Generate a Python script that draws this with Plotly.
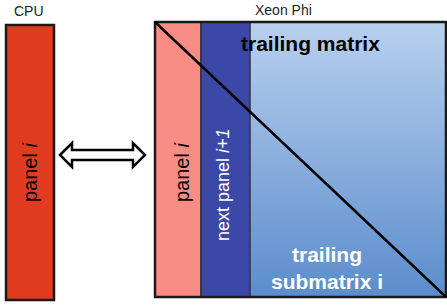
import plotly.graph_objects as go

# Diagram content
device_names = ["CPU", "Xeon Phi"]
block_labels = ["panel <i>i</i>", "panel <i>i</i>", "next panel <i>i+1</i>", "trailing matrix", "trailing<br>submatrix i"]
# column widths of the Xeon Phi matrix in panel units: panel i, next panel, trailing
column_units = [1, 1, 4]

W, H = 447, 306
fig = go.Figure()

# geometry (pixels)
cpu_x0, cpu_x1, cpu_y0, cpu_y1 = 6, 54, 25, 300
mx0, mx1, my0, my1 = 155, 446, 22, 297
col_edges = [mx0, 201, 250, mx1]

# trailing matrix gradient fill (whole matrix background)
fig.add_trace(go.Scatter(
    x=[mx0, mx1, mx1, mx0, mx0], y=[my0, my0, my1, my1, my0],
    mode="lines", fill="toself", line=dict(width=0),
    fillgradient=dict(type="vertical",
                      colorscale=[[0, "#5b8dcc"], [1, "#b8d0ee"]]),
    hoverinfo="skip", showlegend=False))

shapes = []
shapes.append(dict(type="rect", x0=cpu_x0, x1=cpu_x1, y0=cpu_y0, y1=cpu_y1,
                   fillcolor="#e13b21", line=dict(color="#1a1a1a", width=2.5)))
shapes.append(dict(type="rect", x0=col_edges[0], x1=col_edges[1], y0=my0, y1=my1,
                   fillcolor="#f98d86", line=dict(color="#333333", width=1.5)))
shapes.append(dict(type="rect", x0=col_edges[1], x1=col_edges[2], y0=my0, y1=my1,
                   fillcolor="#3c48a8", line=dict(color="#333333", width=1.5)))
shapes.append(dict(type="rect", x0=mx0, x1=mx1, y0=my0, y1=my1,
                   line=dict(color="#1a1a1a", width=2.5)))
shapes.append(dict(type="line", x0=mx0, y0=my0, x1=mx1, y1=my1,
                   line=dict(color="#000000", width=2.5)))
ax0, ax1, ay = 60, 145, 155
hl, hh, sh = 12, 12, 5
pts = [(ax0, ay), (ax0 + hl, ay - hh), (ax0 + hl, ay - sh), (ax1 - hl, ay - sh),
       (ax1 - hl, ay - hh), (ax1, ay), (ax1 - hl, ay + hh), (ax1 - hl, ay + sh),
       (ax0 + hl, ay + sh), (ax0 + hl, ay + hh)]
path = "M " + " L ".join(f"{x},{y}" for x, y in pts) + " Z"
shapes.append(dict(type="path", path=path, fillcolor="white",
                   line=dict(color="#000000", width=2.5)))

for s in shapes:
    s.update(xref="x", yref="y", layer="above")
fig.update_layout(shapes=shapes)

font = "Liberation Sans, Arial, sans-serif"
ann = [
    dict(x=29, y=11, text=device_names[0], font=dict(size=14, color="#222")),
    dict(x=283, y=10, text=device_names[1], font=dict(size=14, color="#222")),
    dict(x=30, y=172, text=block_labels[0], textangle=-90, font=dict(size=20, color="#000")),
    dict(x=182, y=172, text=block_labels[1], textangle=-90, font=dict(size=20, color="#000")),
    dict(x=223, y=185, text=block_labels[2], textangle=-90, font=dict(size=18, color="#ffffff")),
    dict(x=310, y=43, text="<b>" + block_labels[3] + "</b>", font=dict(size=21, color="#000")),
    dict(x=327, y=268, text="<b>" + block_labels[4] + "</b>", font=dict(size=21, color="#ffffff")),
]
for a in ann:
    a.update(xref="x", yref="y", showarrow=False, font=dict(family=font, **a["font"]))
fig.update_layout(annotations=ann)

fig.update_layout(
    width=W, height=H, margin=dict(l=0, r=0, t=0, b=0),
    paper_bgcolor="white", plot_bgcolor="white",
    xaxis=dict(range=[0, W], visible=False, fixedrange=True),
    yaxis=dict(range=[H, 0], visible=False, fixedrange=True),
    showlegend=False,
)
fig.write_html("out.html", config={"displayModeBar": False},
               post_script="document.body.style.margin='0';document.body.style.overflow='hidden';")
